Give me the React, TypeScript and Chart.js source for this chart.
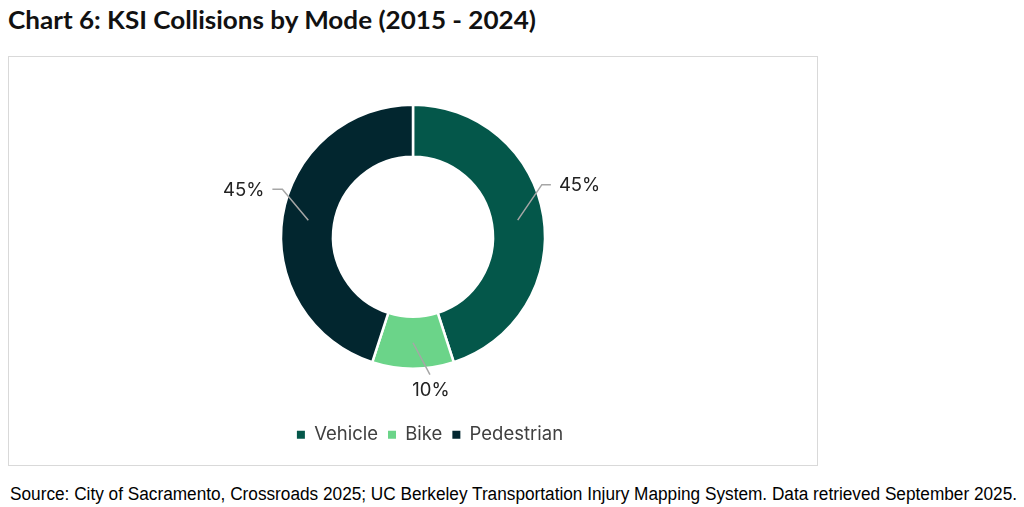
import React, { useEffect, useLayoutEffect, useRef } from "react";
import { Chart, registerables, Plugin } from "chart.js";

Chart.register(...registerables);

const categories = ["Vehicle", "Bike", "Pedestrian"];
const shares = [45, 10, 45];
const colors = ["#04574a", "#6bd489", "#02262f"];

// how far each leader line bends away from the slice's middle angle (degrees)
const leaderTurn = [-13, -7, 11];

const labelPlugin: Plugin<"doughnut"> = {
    id: "leaderLabels",
    afterLayout(chart) {
        // the original legend sits a little right of the ring's centre
        const legend: any = chart.legend;
        if (legend) {
            legend.left += 17;
            legend.right += 17;
        }
    },
    afterDatasetsDraw(chart) {
        const ctx = chart.ctx;
        const meta = chart.getDatasetMeta(0);
        ctx.save();
        ctx.font = "18.5px Inter";
        ctx.fillStyle = "#222222";
        ctx.strokeStyle = "#a6a6a6";
        ctx.lineWidth = 1.5;
        meta.data.forEach((arc: any, i: number) => {
            const { x, y, startAngle, endAngle, innerRadius, outerRadius } = arc.getProps(
                ["x", "y", "startAngle", "endAngle", "innerRadius", "outerRadius"],
                true
            );
            const mid = (startAngle + endAngle) / 2;
            const r0 = (innerRadius + outerRadius) / 2;
            const sx = x + Math.cos(mid) * r0;
            const sy = y + Math.sin(mid) * r0;
            const a = mid + (leaderTurn[i] * Math.PI) / 180;
            const r1 = outerRadius + 7;
            const ex = x + Math.cos(a) * r1;
            const ey = y + Math.sin(a) * r1;
            const text = shares[i] + "%";
            ctx.beginPath();
            ctx.moveTo(sx, sy);
            ctx.lineTo(ex, ey);
            const c = Math.cos(mid);
            if (c > 0.3) {
                ctx.lineTo(ex + 9, ey);
                ctx.stroke();
                ctx.textAlign = "left";
                ctx.textBaseline = "middle";
                ctx.fillText(text, ex + 17, ey + 1);
            } else if (c < -0.3) {
                ctx.lineTo(ex - 10, ey);
                ctx.stroke();
                ctx.textAlign = "right";
                ctx.textBaseline = "middle";
                ctx.fillText(text, ex - 18, ey + 1);
            } else {
                ctx.stroke();
                ctx.textAlign = "center";
                ctx.textBaseline = "top";
                ctx.fillText(text, ex + 1, ey + 6);
            }
        });
        ctx.restore();
    },
};

const FitText: React.FC<{ text: string; width: number; style: React.CSSProperties }> = ({
    text,
    width,
    style,
}) => {
    const ref = useRef<HTMLSpanElement | null>(null);
    useLayoutEffect(() => {
        if (ref.current) {
            ref.current.style.transform = "none";
            const w = ref.current.getBoundingClientRect().width;
            if (w > 0) ref.current.style.transform = `scaleX(${width / w})`;
        }
    }, [text, width]);
    return (
        <span
            ref={ref}
            style={{ ...style, display: "inline-block", whiteSpace: "nowrap", transformOrigin: "left center" }}
        >
            {text}
        </span>
    );
};

const App: React.FC = () => {
    const chartRef = useRef<HTMLCanvasElement | null>(null);
    const chartInstance = useRef<Chart | null>(null);

    useEffect(() => {
        if (chartInstance.current) {
            chartInstance.current.destroy();
        }
        if (chartRef.current) {
            chartInstance.current = new Chart(chartRef.current, {
                type: "doughnut",
                data: {
                    labels: categories,
                    datasets: [
                        {
                            data: shares,
                            backgroundColor: colors,
                            borderColor: "#ffffff",
                            borderWidth: 2.5,
                        },
                    ],
                },
                options: {
                    animation: false,
                    responsive: false,
                    radius: 132,
                    cutout: "60.6%",
                    layout: { padding: { top: 2, bottom: 12 } },
                    plugins: {
                        tooltip: { enabled: false },
                        legend: {
                            position: "bottom",
                            labels: {
                                boxWidth: 8,
                                boxHeight: 8,
                                padding: 10,
                                color: "#404040",
                                font: { family: "Inter", size: 18.5 },
                                generateLabels: () =>
                                    categories.map((c, i) => ({
                                        text: c,
                                        fillStyle: colors[i],
                                        strokeStyle: colors[i],
                                        lineWidth: 0,
                                        fontColor: "#404040",
                                        index: i,
                                        hidden: false,
                                    })),
                            },
                        },
                    },
                },
                plugins: [labelPlugin],
            });
        }
        return () => {
            if (chartInstance.current) {
                chartInstance.current.destroy();
                chartInstance.current = null;
            }
        };
    }, []);

    return (
        <div style={{ position: "fixed", left: 0, top: 0, width: 1024, height: 507, background: "#fff" }}>
            <div style={{ position: "absolute", left: 8, top: 6, lineHeight: "28px" }}>
                <FitText
                    text="Chart 6: KSI Collisions by Mode (2015 - 2024)"
                    width={528}
                    style={{ fontFamily: "Lato", fontWeight: 700, fontSize: 24, color: "#111" }}
                />
            </div>
            <div
                style={{
                    position: "absolute",
                    left: 8,
                    top: 56,
                    width: 810,
                    height: 410,
                    boxSizing: "border-box",
                    border: "1.5px solid #d9d9d9",
                }}
            />
            <canvas
                ref={chartRef}
                width={810}
                height={410}
                style={{ position: "absolute", left: 8, top: 56, width: 810, height: 410 }}
            />
            <div style={{ position: "absolute", left: 10, top: 482, lineHeight: "24px" }}>
                <FitText
                    text="Source: City of Sacramento, Crossroads 2025; UC Berkeley Transportation Injury Mapping System. Data retrieved September 2025."
                    width={1007}
                    style={{ fontFamily: "'Liberation Sans Narrow', 'Liberation Sans', sans-serif", fontSize: 18, color: "#000" }}
                />
            </div>
        </div>
    );
};

export default App;
